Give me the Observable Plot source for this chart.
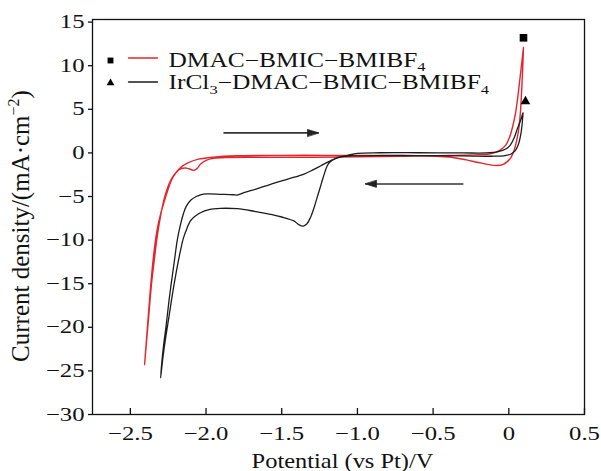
<!DOCTYPE html>
<html><head><meta charset="utf-8">
<script src="https://cdn.jsdelivr.net/npm/d3@7"></script>
<script src="https://cdn.jsdelivr.net/npm/@observablehq/plot@0.6"></script>
<style>
body{margin:0;background:#fff;}
svg{font-family:"Liberation Serif","Times New Roman",serif;}
</style>
</head><body><div id="chart"></div>
<script>
// ---- data ----
const seriesNames = ["DMAC−BMIC−BMIBF4", "IrCl3−DMAC−BMIC−BMIBF4"];
const seriesColors = ["#e3262d", "#1c1c1c"];
const seriesSymbols = ["square", "triangle"];

const redE = [0.097,0.09,0.083,0.076,0.066,0.052,0.035,0.015,-0.01,-0.04,-0.08,-0.13,-0.2,-0.28,-0.36,-0.45,-0.6,-0.9,-1.2,-1.5,-1.8,-1.95,-2.05,-2.12,-2.17,-2.21,-2.235,-2.26,-2.28,-2.30,-2.32,-2.34,-2.36,-2.38,-2.395,-2.406,
  -2.385,-2.367,-2.348,-2.325,-2.30,-2.275,-2.255,-2.23,-2.20,-2.165,-2.13,-2.10,-2.08,-2.06,-2.037,-2.0,-1.95,-1.85,-1.6,-1.3,-1.0,-0.7,-0.4,-0.2,-0.12,-0.06,-0.02,0.005,0.025,0.044,0.062,0.08,0.097];
const redJ = [12.1,9.0,6.5,4.5,2.8,1.4,0.3,-0.5,-1.0,-1.35,-1.45,-1.35,-1.1,-0.8,-0.55,-0.42,-0.33,-0.3,-0.28,-0.28,-0.33,-0.48,-0.72,-1.15,-1.7,-2.5,-3.2,-4.3,-5.5,-7.2,-9.3,-12.0,-15.0,-19.0,-22.0,-24.3,
  -19.5,-15.5,-12.0,-9.0,-7.0,-5.5,-4.4,-3.2,-2.3,-1.8,-1.75,-1.9,-2.0,-1.8,-1.3,-0.85,-0.62,-0.52,-0.5,-0.5,-0.45,-0.4,-0.3,-0.2,-0.1,0.3,0.9,1.8,3.0,4.5,6.8,9.5,12.1];

const blackE = [0.094,0.088,0.078,0.062,0.04,0.011,-0.033,-0.1,-0.3,-0.6,-0.9,-1.03,-1.08,-1.112,-1.156,-1.185,-1.2,-1.215,-1.233,-1.25,-1.266,-1.285,-1.31,-1.335,-1.358,-1.385,-1.42,-1.5,-1.574,-1.68,-1.794,-1.905,-1.98,-2.037,-2.075,-2.103,-2.125,-2.15,-2.17,-2.195,-2.22,-2.245,-2.265,-2.285,-2.30,
  -2.292,-2.28,-2.265,-2.245,-2.23,-2.21,-2.19,-2.17,-2.15,-2.13,-2.10,-2.065,-2.037,-1.99,-1.9,-1.82,-1.794,-1.75,-1.66,-1.574,-1.46,-1.356,-1.30,-1.244,-1.19,-1.134,-1.068,-1.0,-0.85,-0.6,-0.3,-0.15,-0.07,-0.02,0.01,0.035,0.055,0.075,0.094];
const blackJ = [4.6,3.3,2.0,0.9,0.2,-0.15,-0.33,-0.38,-0.33,-0.3,-0.3,-0.35,-0.4,-0.48,-0.75,-1.1,-1.5,-2.2,-3.2,-4.2,-5.1,-6.2,-7.4,-8.15,-8.39,-8.25,-7.8,-7.35,-7.05,-6.7,-6.4,-6.36,-6.5,-6.86,-7.3,-7.8,-8.6,-9.8,-11.3,-13.5,-16.0,-18.8,-21.0,-23.5,-25.8,
  -24.0,-22.0,-20.0,-17.0,-15.0,-12.5,-10.0,-8.3,-7.0,-6.1,-5.4,-5.0,-4.8,-4.7,-4.75,-4.8,-4.83,-4.56,-4.1,-3.6,-3.0,-2.45,-2.0,-1.5,-1.0,-0.54,-0.3,-0.05,0.02,0.02,0.0,0.0,0.15,0.45,0.9,1.7,2.7,3.6,4.6];

const markerE = [0.097, 0.11];
const markerJ = [13.2, 5.9];

const arrowX1 = [-1.885, -0.30];
const arrowX2 = [-1.257, -0.947];
const arrowY = [2.3, -3.56];

const xTicks = [-2.5, -2.0, -1.5, -1.0, -0.5, 0, 0.5];
const yTicks = [-30, -25, -20, -15, -10, -5, 0, 5, 10, 15];
const xLabel = "Potential (vs Pt)/V";
const yLabel = "Current density/(mA·cm−2)";

// ---- tables ----
const red = redE.map((e, i) => ({E: e, J: redJ[i]}));
const black = blackE.map((e, i) => ({E: e, J: blackJ[i]}));
const arrows = arrowX1.map((x1, i) => ({x1, x2: arrowX2[i], y: arrowY[i]}));

const fmtX = d => d === 0 ? "0" : d3.format(".1f")(d);
const fmtY = d => d3.format("d")(d);

const lineShape = {draw(ctx, l) { ctx.moveTo(0, 0); ctx.lineTo(0, -l); }};
const headShape = {draw(ctx, l) { ctx.moveTo(0, -l); ctx.lineTo(-3.4, 0); ctx.lineTo(3.4, 0); ctx.closePath(); }};

const legendMarks = seriesNames.flatMap((name, i) => [
  Plot.dot([name], {frameAnchor: "top-left", dx: 18, dy: 41 + i * 22.5, symbol: seriesSymbols[i], r: i === 0 ? 3.3 : 2.9, fill: "#000", stroke: "none"}),
  Plot.vector([name], {frameAnchor: "top-left", dx: 36, dy: 38.5 + i * 24, length: 29, rotate: 90, anchor: "start", shape: lineShape, stroke: seriesColors[i], strokeWidth: 1.4}),
  Plot.text([name], {frameAnchor: "top-left", lineAnchor: "middle", dx: 76, dy: 41 + i * 22.5, text: d => d, textAnchor: "start", fontSize: 20, fill: "#111"})
]);

const plot = Plot.plot({
  width: 601, height: 471,
  marginLeft: 92, marginRight: 17, marginTop: 19, marginBottom: 57,
  style: {fontFamily: "Liberation Serif", fontSize: "19px", color: "#111", background: "#fff"},
  x: {domain: [-2.75, 0.5]},
  y: {domain: [-30, 15.3]},
  marks: [
    Plot.axisX(xTicks, {tickSize: -6, tickPadding: 17.5, tickFormat: fmtX, label: null, fontSize: 19, strokeWidth: 1.3}),
    Plot.axisY(yTicks, {tickSize: 4, tickPadding: 4, tickFormat: fmtY, label: null, fontSize: 19, strokeWidth: 1.3}),
    Plot.frame({stroke: "#111", strokeWidth: 1.3}),
    Plot.line(red, {x: "E", y: "J", stroke: seriesColors[0], strokeWidth: 1.4, curve: "catmull-rom"}),
    Plot.line(black, {x: "E", y: "J", stroke: seriesColors[1], strokeWidth: 1.3, curve: "catmull-rom"}),
    Plot.dot([0], {x: () => markerE[0], y: () => markerJ[0], symbol: seriesSymbols[0], r: 4.3, fill: "#000", stroke: "none"}),
    Plot.dot([1], {x: () => markerE[1], y: () => markerJ[1], symbol: seriesSymbols[1], r: 3.6, fill: "#000", stroke: "none"}),
    Plot.link(arrows, {x1: "x1", y1: "y", x2: "x2", y2: "y", stroke: "#333", strokeWidth: 1.6}),
    Plot.vector(arrows, {x: "x2", y: "y", rotate: d => d.x2 > d.x1 ? 90 : -90, length: 11, anchor: "end", shape: headShape, fill: "#222", stroke: "#222", strokeWidth: 0.8}),
    ...legendMarks,
    Plot.text([xLabel], {frameAnchor: "bottom", lineAnchor: "bottom", textAnchor: "middle", dx: 4, dy: 53, text: d => d, fontSize: 22, fill: "#111"}),
    Plot.text([yLabel], {frameAnchor: "left", lineAnchor: "middle", textAnchor: "middle", dx: -72, dy: 9, rotate: -90, text: d => d, fontSize: 25, fill: "#111"})
  ]
});

document.getElementById("chart").append(plot);

// ---- rich text (sub/superscripts) and glyph width matching ----
const NS = "http://www.w3.org/2000/svg";
function rebuild(t, parts, small, subShift, supShift) {
  while (t.firstChild) t.removeChild(t.firstChild);
  let shift = 0;
  for (const [s, kind] of parts) {
    const sp = document.createElementNS(NS, "tspan");
    sp.textContent = s;
    const target = kind === "sub" ? subShift : kind === "sup" ? supShift : 0;
    if (target !== shift) { sp.setAttribute("dy", target - shift); shift = target; }
    if (kind) sp.setAttribute("font-size", small);
    t.appendChild(sp);
  }
}
plot.querySelectorAll("text").forEach(t => {
  const s = t.textContent;
  if (seriesNames.includes(s)) {
    const parts = [];
    s.split(/(\d)/).filter(p => p !== "").forEach(p => parts.push([p, /\d/.test(p) ? "sub" : null]));
    rebuild(t, parts, 13, 4.5, 0);
    t.setAttribute("textLength", t.getComputedTextLength() * 1.27);
    t.setAttribute("lengthAdjust", "spacingAndGlyphs");
  } else if (s === yLabel) {
    rebuild(t, [["Current density/(mA·cm", null], ["−2", "sup"], [")", null]], 16, 0, -10);
  } else if (s === xLabel) {
    t.setAttribute("textLength", t.getComputedTextLength() * 1.11);
    t.setAttribute("lengthAdjust", "spacingAndGlyphs");
  } else {
    t.setAttribute("textLength", t.getComputedTextLength() * 1.3);
    t.setAttribute("lengthAdjust", "spacingAndGlyphs");
  }
});
</script>
</body></html>
